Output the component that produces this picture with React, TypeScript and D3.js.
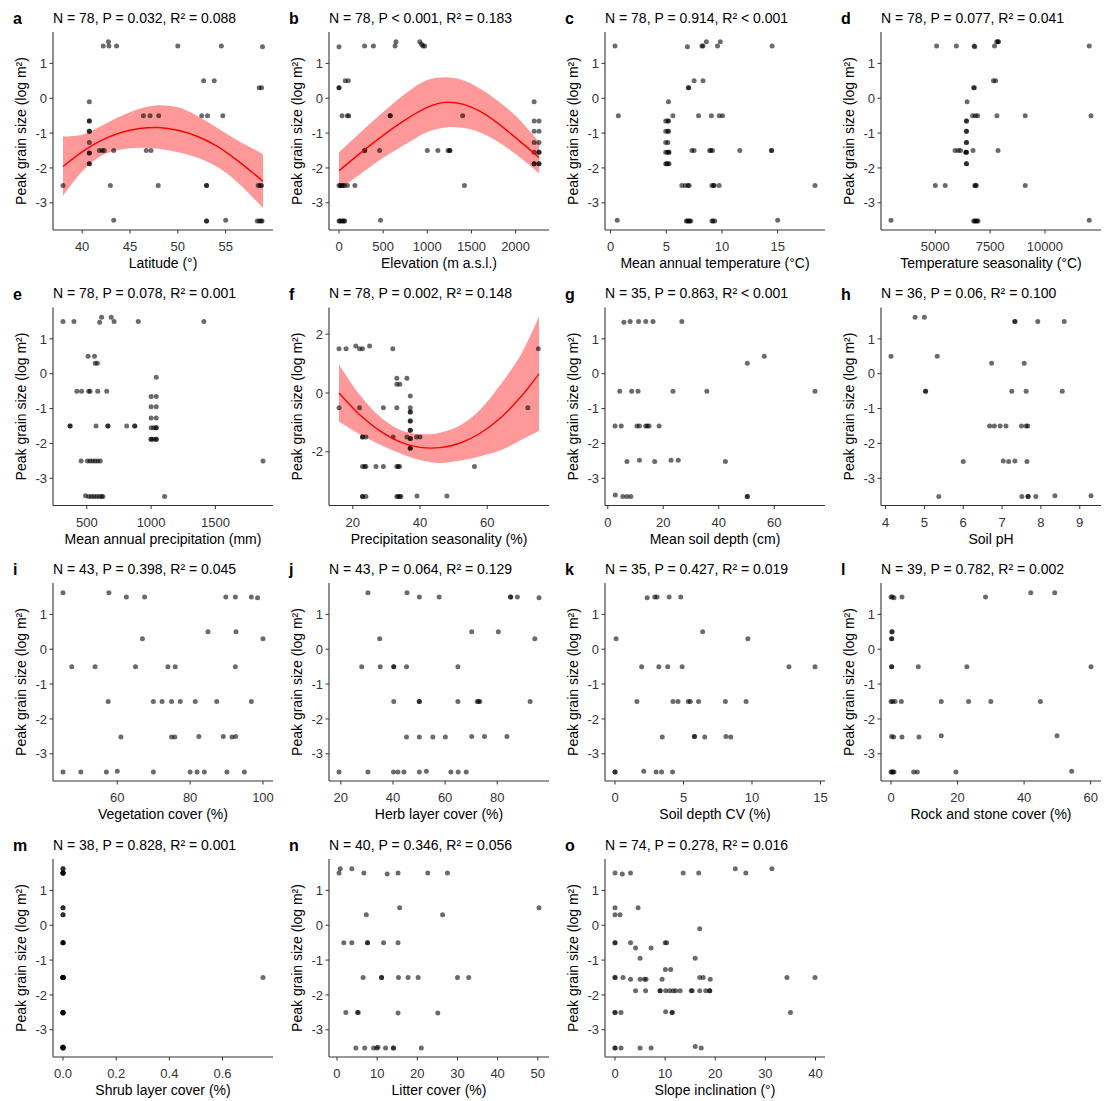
import * as d3 from "d3";

type Pt = [number, number];

const FONT = "'Liberation Sans', Arial, Helvetica, sans-serif";
const YLAB = "Peak grain size (log m²)";

// a: latitude
const latPts: Pt[] = [
  [42.2, 1.5], [42.75, 1.62], [42.8, 1.5], [43.6, 1.5], [50, 1.5], [54.55, 1.5], [58.85, 1.48],
  [52.7, 0.5], [53.8, 0.5], [58.5, 0.3], [58.75, 0.3],
  [40.75, -0.1],
  [46.4, -0.5], [47.1, -0.5], [48, -0.5], [52.5, -0.5], [53.1, -0.5], [54.7, -0.5],
  [40.75, -0.65], [40.75, -0.65], [40.75, -0.95], [40.75, -0.95], [40.75, -1.27],
  [41.8, -1.5], [42.1, -1.5], [42.3, -1.5], [43.3, -1.5], [46.7, -1.5], [47.2, -1.5],
  [40.75, -1.57], [40.75, -1.57], [40.75, -1.88], [40.75, -1.88],
  [38, -2.5], [42.95, -2.5], [47.95, -2.5], [53, -2.5], [53, -2.5], [58.4, -2.5], [58.6, -2.5], [58.75, -2.5],
  [43.3, -3.5], [53, -3.52], [53, -3.52], [55, -3.5], [58.3, -3.52], [58.5, -3.52], [58.7, -3.52], [58.8, -3.52],
];
const latCurveX = [38, 40, 42, 44, 46, 48, 50, 52, 54, 56, 58.9];
const latFit = [-1.96, -1.54, -1.21, -0.99, -0.87, -0.84, -0.92, -1.09, -1.36, -1.74, -2.38];
const latLo = [-2.8, -2.1, -1.65, -1.47, -1.42, -1.45, -1.55, -1.7, -1.95, -2.35, -3.15];
const latHi = [-1.1, -1.05, -0.8, -0.52, -0.3, -0.2, -0.26, -0.5, -0.83, -1.17, -1.6];

// b: elevation
const elevPts: Pt[] = [
  [0, 1.48], [290, 1.5], [390, 1.5], [635, 1.5], [645, 1.62], [915, 1.62], [935, 1.55], [950, 1.5], [970, 1.5],
  [70, 0.5], [105, 0.5], [0, 0.3], [0, 0.3], [2210, -0.1],
  [35, -0.5], [95, -0.5], [110, -0.5], [580, -0.5], [580, -0.5], [1400, -0.5],
  [2210, -0.65], [2265, -0.65], [2210, -0.95], [2265, -0.95], [2210, -1.27], [2265, -1.27],
  [290, -1.5], [290, -1.5], [460, -1.5], [1000, -1.5], [1120, -1.5], [1235, -1.5], [1255, -1.5], [1255, -1.5],
  [2210, -1.55], [2265, -1.55], [2265, -1.55], [2210, -1.88], [2210, -1.88], [2265, -1.88], [2265, -1.88],
  [0, -2.5], [15, -2.5], [30, -2.5], [45, -2.5], [60, -2.5], [95, -2.5], [180, -2.5], [1420, -2.5],
  [0, -3.52], [10, -3.52], [25, -3.52], [40, -3.52], [55, -3.52], [65, -3.52], [470, -3.5],
];
const elevCurveX = [0, 200, 400, 600, 800, 1000, 1200, 1400, 1600, 1800, 2000, 2265];
const elevFit = [-2.08, -1.66, -1.26, -0.88, -0.54, -0.26, -0.12, -0.17, -0.38, -0.72, -1.13, -1.7];
const elevLo = [-2.6, -2.25, -1.88, -1.55, -1.25, -0.97, -0.84, -0.85, -0.98, -1.25, -1.6, -2.15];
const elevHi = [-1.55, -1.08, -0.62, -0.18, 0.22, 0.52, 0.6, 0.52, 0.27, -0.08, -0.5, -1.25];

// c: mean annual temperature
const matPts: Pt[] = [
  [0.4, 1.5], [6.9, 1.48], [8.2, 1.5], [8.3, 1.5], [8.6, 1.62], [9.6, 1.5], [9.85, 1.62], [14.5, 1.5],
  [7.5, 0.5], [8.3, 0.5], [7, 0.3], [7, 0.3], [5.2, -0.1],
  [0.7, -0.5], [5.6, -0.5], [7.9, -0.5], [9.05, -0.5], [9.75, -0.5], [10.05, -0.5],
  [4.95, -0.65], [5.15, -0.65], [5.2, -0.65], [4.95, -0.95], [5.15, -0.95], [5.2, -0.95], [4.95, -1.27], [5.15, -1.27],
  [7.3, -1.5], [7.5, -1.5], [8.9, -1.5], [9.0, -1.5], [9.15, -1.5], [11.6, -1.5], [14.45, -1.5], [14.45, -1.5],
  [4.95, -1.55], [5.1, -1.55], [5.2, -1.55], [5.25, -1.55], [4.95, -1.88], [5.05, -1.88], [5.15, -1.88], [5.25, -1.88],
  [6.4, -2.5], [6.7, -2.5], [6.95, -2.5], [7.05, -2.5], [9.1, -2.5], [9.25, -2.5], [9.3, -2.5], [9.75, -2.5], [18.35, -2.5],
  [0.6, -3.5], [6.8, -3.52], [6.9, -3.52], [7.0, -3.52], [7.1, -3.52], [7.2, -3.52], [9.1, -3.52], [9.2, -3.52], [9.35, -3.52], [15.0, -3.5],
];

// d: temperature seasonality
const tsPts: Pt[] = [
  [5060, 1.5], [5960, 1.5], [6770, 1.5], [6800, 1.48], [7700, 1.5], [7800, 1.62], [7860, 1.62], [7880, 1.62], [12020, 1.5],
  [7650, 0.5], [7750, 0.5], [6750, 0.3], [6780, 0.3], [6450, -0.1],
  [6700, -0.5], [6830, -0.5], [6930, -0.5], [7810, -0.5], [9100, -0.5], [12100, -0.5],
  [6420, -0.65], [6420, -0.65], [6420, -0.95], [6420, -0.95], [6420, -1.27], [6420, -1.27],
  [5900, -1.5], [6050, -1.5], [6150, -1.5], [6720, -1.5], [7860, -1.5],
  [6420, -1.55], [6420, -1.55], [6380, -1.55], [6420, -1.88], [6420, -1.88],
  [5000, -2.5], [5450, -2.5], [6800, -2.5], [6830, -2.5], [6870, -2.5], [9100, -2.5],
  [2980, -3.5], [6750, -3.52], [6800, -3.52], [6850, -3.52], [6900, -3.52], [6950, -3.52], [12020, -3.5],
];

// e: mean annual precipitation
const mapPts: Pt[] = [
  [315, 1.5], [400, 1.5], [600, 1.48], [615, 1.62], [690, 1.62], [712, 1.5], [900, 1.5], [1410, 1.5],
  [510, 0.5], [560, 0.5], [565, 0.3], [582, 0.3], [1040, -0.1],
  [423, -0.5], [460, -0.5], [515, -0.5], [525, -0.5], [585, -0.5], [655, -0.5],
  [1000, -0.65], [1040, -0.65], [1000, -0.95], [1040, -0.95], [1000, -1.27], [1040, -1.27],
  [370, -1.5], [370, -1.5], [572, -1.5], [664, -1.5], [664, -1.5], [810, -1.5], [873, -1.5], [873, -1.5],
  [1000, -1.55], [1020, -1.55], [1040, -1.55], [1040, -1.55],
  [1000, -1.88], [1000, -1.88], [1020, -1.88], [1040, -1.88], [1040, -1.88],
  [456, -2.5], [505, -2.5], [525, -2.5], [545, -2.5], [565, -2.5], [585, -2.5], [605, -2.5], [1870, -2.5],
  [490, -3.5], [515, -3.52], [535, -3.52], [555, -3.52], [575, -3.52], [595, -3.52], [615, -3.52], [625, -3.52], [1105, -3.52],
];

// f: precipitation seasonality
const psPts: Pt[] = [
  [15.9, 1.5], [18, 1.5], [20.9, 1.6], [22, 1.5], [22.9, 1.5], [25, 1.6], [31.9, 1.5], [75.2, 1.5],
  [33.1, 0.5], [36.1, 0.5], [33.1, 0.3], [34.0, 0.3], [37.1, -0.1],
  [15.9, -0.5], [22, -0.5], [29.1, -0.5], [33.1, -0.5], [37.1, -0.5], [72.1, -0.5],
  [37.1, -0.65], [37.1, -0.65], [37.1, -0.95], [37.1, -0.95], [37.1, -1.27], [37.1, -1.27],
  [22.9, -1.5], [22.9, -1.5], [23.9, -1.5], [32, -1.5], [36.1, -1.5], [39, -1.5], [40, -1.5],
  [37.1, -1.55], [37.1, -1.55], [37.1, -1.88], [37.1, -1.88],
  [22.9, -2.5], [23.5, -2.5], [23.9, -2.5], [26.9, -2.5], [29.1, -2.5], [33.1, -2.5], [33.5, -2.5], [33.9, -2.5], [56.2, -2.5],
  [22.9, -3.52], [22.9, -3.52], [23.9, -3.52], [33.1, -3.52], [33.5, -3.52], [34, -3.52], [34.3, -3.52], [39.1, -3.5], [48, -3.5],
];
const psCurveX = [15.9, 22, 28, 34, 40, 46, 52, 58, 64, 70, 75.4];
const psFit = [0.0, -0.73, -1.28, -1.66, -1.85, -1.86, -1.7, -1.36, -0.84, -0.13, 0.65];
const psLo = [-0.97, -1.4, -1.75, -2.05, -2.28, -2.38, -2.3, -2.15, -1.95, -1.6, -1.29];
const psHi = [0.97, -0.05, -0.8, -1.25, -1.4, -1.35, -1.1, -0.55, 0.3, 1.3, 2.6];

// g: mean soil depth
const sdPts: Pt[] = [
  [5.8, 1.48], [8.05, 1.5], [11.1, 1.5], [13.7, 1.5], [16.3, 1.5], [26.7, 1.5],
  [56.4, 0.5], [50.3, 0.3],
  [4.3, -0.5], [8.6, -0.5], [10.9, -0.5], [23.5, -0.5], [35.7, -0.5], [74.7, -0.5],
  [2.6, -1.5], [4.85, -1.5], [10.5, -1.5], [11.4, -1.5], [13.7, -1.5], [14.2, -1.5], [14.9, -1.5], [18.5, -1.5],
  [6.9, -2.52], [11.4, -2.48], [16.9, -2.52], [22.8, -2.48], [25.4, -2.48], [42.4, -2.52],
  [2.7, -3.48], [5.4, -3.52], [6.9, -3.52], [8.3, -3.52], [50.3, -3.52], [50.3, -3.52],
];

// h: soil pH
const phPts: Pt[] = [
  [4.76, 1.62], [5.0, 1.62], [7.33, 1.5], [7.33, 1.5], [7.92, 1.5], [8.6, 1.5],
  [4.14, 0.5], [5.33, 0.5], [6.73, 0.3], [7.57, 0.3],
  [5.03, -0.5], [5.03, -0.5], [7.25, -0.5], [7.62, -0.5], [8.55, -0.5],
  [6.68, -1.5], [6.8, -1.5], [6.95, -1.5], [7.1, -1.5], [7.5, -1.5], [7.62, -1.5], [7.66, -1.5],
  [6.0, -2.52], [7.03, -2.5], [7.17, -2.52], [7.33, -2.5], [7.64, -2.52],
  [5.37, -3.52], [7.51, -3.52], [7.67, -3.52], [7.67, -3.52], [7.87, -3.52], [8.36, -3.5], [9.29, -3.5],
];

// i: vegetation cover
const vegPts: Pt[] = [
  [45.1, 1.62], [57.7, 1.62], [62.5, 1.5], [67.5, 1.5], [89.8, 1.5], [92.4, 1.5], [96.8, 1.5], [98.5, 1.48],
  [84.9, 0.5], [92.6, 0.5], [66.9, 0.3], [100, 0.3],
  [47.5, -0.5], [53.9, -0.5], [65, -0.5], [73.9, -0.5], [75.9, -0.5], [92.4, -0.5],
  [57.5, -1.5], [69.9, -1.5], [72.3, -1.5], [74.9, -1.5], [77.3, -1.5], [81.4, -1.5], [87.3, -1.5], [96.8, -1.5],
  [61, -2.52], [74.9, -2.52], [75.8, -2.52], [82.4, -2.5], [89.1, -2.5], [91.5, -2.52], [92.5, -2.5],
  [45.1, -3.52], [50, -3.52], [57, -3.52], [60, -3.5], [69.9, -3.52], [80, -3.52], [81.9, -3.52], [83.9, -3.52], [90.1, -3.52], [94.9, -3.52],
];

// j: herb layer cover
const herbPts: Pt[] = [
  [30.4, 1.62], [45.4, 1.62], [50.1, 1.5], [57.7, 1.5], [85, 1.5], [85.2, 1.5], [87.7, 1.5], [96, 1.48],
  [70.2, 0.5], [80.4, 0.5], [34.9, 0.3], [94.4, 0.3],
  [28, -0.5], [35.1, -0.5], [40.3, -0.5], [40.3, -0.5], [45.2, -0.5], [64.9, -0.5],
  [40.3, -1.5], [50.1, -1.5], [50.1, -1.5], [64.9, -1.5], [72.3, -1.5], [73.3, -1.5], [72.8, -1.5], [92.6, -1.5],
  [45.2, -2.52], [50.1, -2.52], [55.3, -2.52], [60.1, -2.52], [70.2, -2.5], [75.1, -2.5], [83.7, -2.5],
  [19.3, -3.52], [30.4, -3.52], [40.2, -3.52], [41.9, -3.52], [44.2, -3.52], [50.1, -3.52], [52.8, -3.5], [62.2, -3.52], [65, -3.52], [68.1, -3.52],
];

// k: soil depth CV
const cvPts: Pt[] = [
  [2.35, 1.48], [2.9, 1.5], [3.07, 1.5], [3.95, 1.5], [4.8, 1.5],
  [6.4, 0.5], [0.08, 0.3], [9.7, 0.3],
  [1.94, -0.5], [3.2, -0.5], [3.85, -0.5], [4.9, -0.5], [12.7, -0.5], [14.6, -0.5],
  [1.6, -1.5], [4.23, -1.5], [4.6, -1.5], [5.35, -1.5], [5.5, -1.5], [6.1, -1.5], [8.06, -1.5], [9.57, -1.5],
  [3.45, -2.52], [5.8, -2.5], [5.8, -2.5], [6.55, -2.52], [8.1, -2.5], [8.45, -2.52],
  [0, -3.52], [0, -3.52], [2.1, -3.5], [3.0, -3.52], [3.4, -3.52], [4.2, -3.52],
];

// l: rock and stone cover
const rockPts: Pt[] = [
  [0, 1.5], [0.4, 1.5], [0.9, 1.48], [3.3, 1.5], [28.4, 1.5], [42, 1.62], [49.2, 1.62],
  [0.3, 0.5], [0.3, 0.5], [0.2, 0.3], [0.2, 0.3],
  [0.2, -0.5], [0.2, -0.5], [8.2, -0.5], [22.8, -0.5], [60.1, -0.5],
  [0, -1.5], [0.5, -1.5], [1.2, -1.5], [3.1, -1.5], [15.1, -1.5], [23.3, -1.5], [30, -1.5], [44.9, -1.5],
  [0.2, -2.5], [0.8, -2.52], [3.3, -2.52], [8.4, -2.52], [15.1, -2.48], [49.9, -2.48],
  [0, -3.52], [0.3, -3.52], [0.6, -3.52], [0.9, -3.52], [6.8, -3.52], [7.9, -3.52], [19.5, -3.52], [54.3, -3.5],
];

// m: shrub layer cover
const shrubPts: Pt[] = [
  [0, 1.62], [0, 1.62], [0, 1.5], [0, 1.5], [0, 1.5], [0, 1.5], [0, 1.5],
  [0, 0.5], [0, 0.5], [0, 0.3], [0, 0.3],
  [0, -0.5], [0, -0.5], [0, -0.5], [0, -0.5],
  [0, -1.5], [0, -1.5], [0, -1.5], [0, -1.5], [0, -1.5], [0, -1.5], [0, -1.5], [0, -1.5],
  [0, -2.5], [0, -2.5], [0, -2.5], [0, -2.5], [0, -2.52], [0, -2.52],
  [0, -3.5], [0, -3.5], [0, -3.5], [0, -3.5], [0, -3.52], [0, -3.52], [0, -3.52],
  [0.752, -1.5],
];

// n: litter cover
const litterPts: Pt[] = [
  [0.8, 1.62], [3.7, 1.62], [0.5, 1.5], [6.7, 1.5], [12.5, 1.47], [15.2, 1.5], [22.6, 1.5], [27.5, 1.5],
  [15.6, 0.5], [50.3, 0.5], [7.3, 0.3], [26.3, 0.3],
  [1.7, -0.5], [3.7, -0.5], [7.6, -0.5], [7.6, -0.5], [11.6, -0.5], [15.2, -0.5],
  [6.5, -1.5], [11.1, -1.5], [11.1, -1.5], [15.3, -1.5], [17.7, -1.5], [20.2, -1.5], [30, -1.5], [32.8, -1.5],
  [2.2, -2.5], [5.1, -2.5], [5.3, -2.5], [15.2, -2.52], [25.1, -2.52],
  [4.7, -3.52], [6.9, -3.52], [9.1, -3.52], [9.9, -3.52], [10.2, -3.5], [12.1, -3.52], [14, -3.52], [14.1, -3.52], [21, -3.52],
];

// o: slope inclination
const slopePts: Pt[] = [
  [0, 1.5], [1.45, 1.47], [3.1, 1.5], [13.6, 1.5], [16.7, 1.5], [26.1, 1.5], [24, 1.62], [31.3, 1.62],
  [0, 0.5], [4.6, 0.5], [0, 0.3], [1.0, 0.3], [16.9, -0.1],
  [0, -0.5], [0, -0.5], [3.1, -0.5], [10, -0.5], [10.3, -0.5],
  [4.1, -0.65], [7.2, -0.65], [5.0, -0.95], [16.0, -0.95], [10.05, -1.27], [11.1, -1.27],
  [0, -1.5], [0, -1.5], [1.6, -1.5], [16.9, -1.5], [17.6, -1.5], [34.3, -1.5], [39.9, -1.5],
  [3.1, -1.55], [5.0, -1.55], [5.9, -1.55], [6.2, -1.55], [9.4, -1.55], [19, -1.55],
  [4.1, -1.88], [6.1, -1.88], [9.0, -1.88], [9.0, -1.88], [10.1, -1.88], [10.9, -1.88], [11.6, -1.88], [12.1, -1.88], [13, -1.88],
  [15.2, -1.88], [15.4, -1.88], [16.9, -1.88], [18.1, -1.88], [18.9, -1.88], [18.9, -1.88],
  [0, -2.5], [0, -2.5], [1.2, -2.5], [10.1, -2.48], [11.4, -2.5], [11.4, -2.5], [35, -2.5],
  [0, -3.52], [0, -3.52], [1.2, -3.52], [5.0, -3.52], [7.2, -3.52], [16, -3.48], [17.2, -3.52],
];

const yTicksStd = [-3, -2, -1, 0, 1];
const yTicksF = [-2, 0, 2];
// shared y limits of the plain panels (all but f)
const yDomainStd: [number, number] = [-3.78, 1.9];

type Curve = { x: number[]; fit: number[]; lo: number[]; hi: number[] };
type PanelDef = {
  letter: string;
  stat: string;
  xlab: string;
  pts: Pt[];
  xTicks: number[];
  yTicks: number[];
  yDomain?: [number, number];
  curve?: Curve;
  fmt?: (v: number) => string;
};

const panels: PanelDef[] = [
  { letter: "a", stat: "N = 78, P = 0.032, R² = 0.088", xlab: "Latitude (°)", pts: latPts, xTicks: [40, 45, 50, 55], yTicks: yTicksStd,
    yDomain: yDomainStd, curve: { x: latCurveX, fit: latFit, lo: latLo, hi: latHi } },
  { letter: "b", stat: "N = 78, P < 0.001, R² = 0.183", xlab: "Elevation (m a.s.l.)", pts: elevPts, xTicks: [0, 500, 1000, 1500, 2000], yTicks: yTicksStd,
    yDomain: yDomainStd, curve: { x: elevCurveX, fit: elevFit, lo: elevLo, hi: elevHi } },
  { letter: "c", stat: "N = 78, P = 0.914, R² < 0.001", xlab: "Mean annual temperature (°C)", pts: matPts, xTicks: [0, 5, 10, 15], yTicks: yTicksStd, yDomain: yDomainStd },
  { letter: "d", stat: "N = 78, P = 0.077, R² = 0.041", xlab: "Temperature seasonality (°C)", pts: tsPts, xTicks: [5000, 7500, 10000], yTicks: yTicksStd, yDomain: yDomainStd },
  { letter: "e", stat: "N = 78, P = 0.078, R² = 0.001", xlab: "Mean annual precipitation (mm)", pts: mapPts, xTicks: [500, 1000, 1500], yTicks: yTicksStd, yDomain: yDomainStd },
  { letter: "f", stat: "N = 78, P = 0.002, R² = 0.148", xlab: "Precipitation seasonality (%)", pts: psPts, xTicks: [20, 40, 60], yTicks: yTicksF,
    curve: { x: psCurveX, fit: psFit, lo: psLo, hi: psHi } },
  { letter: "g", stat: "N = 35, P = 0.863, R² < 0.001", xlab: "Mean soil depth (cm)", pts: sdPts, xTicks: [0, 20, 40, 60], yTicks: yTicksStd, yDomain: yDomainStd },
  { letter: "h", stat: "N = 36, P = 0.06, R² = 0.100", xlab: "Soil pH", pts: phPts, xTicks: [4, 5, 6, 7, 8, 9], yTicks: yTicksStd, yDomain: yDomainStd },
  { letter: "i", stat: "N = 43, P = 0.398, R² = 0.045", xlab: "Vegetation cover (%)", pts: vegPts, xTicks: [60, 80, 100], yTicks: yTicksStd, yDomain: yDomainStd },
  { letter: "j", stat: "N = 43, P = 0.064, R² = 0.129", xlab: "Herb layer cover (%)", pts: herbPts, xTicks: [20, 40, 60, 80], yTicks: yTicksStd, yDomain: yDomainStd },
  { letter: "k", stat: "N = 35, P = 0.427, R² = 0.019", xlab: "Soil depth CV (%)", pts: cvPts, xTicks: [0, 5, 10, 15], yTicks: yTicksStd, yDomain: yDomainStd },
  { letter: "l", stat: "N = 39, P = 0.782, R² = 0.002", xlab: "Rock and stone cover (%)", pts: rockPts, xTicks: [0, 20, 40, 60], yTicks: yTicksStd, yDomain: yDomainStd },
  { letter: "m", stat: "N = 38, P = 0.828, R² = 0.001", xlab: "Shrub layer cover (%)", pts: shrubPts, xTicks: [0, 0.2, 0.4, 0.6], yTicks: yTicksStd,
    yDomain: yDomainStd, fmt: d3.format(".1f") },
  { letter: "n", stat: "N = 40, P = 0.346, R² = 0.056", xlab: "Litter cover (%)", pts: litterPts, xTicks: [0, 10, 20, 30, 40, 50], yTicks: yTicksStd, yDomain: yDomainStd },
  { letter: "o", stat: "N = 74, P = 0.278, R² = 0.016", xlab: "Slope inclination (°)", pts: slopePts, xTicks: [0, 10, 20, 30, 40], yTicks: yTicksStd, yDomain: yDomainStd },
];

// panel geometry (inside one cell)
const COL_W = 276;
const ROW_Y = [0, 275.5, 551, 827];
const L = 53, R = 273, T = 32, B = 230;

function expand(ext: number[]): [number, number] {
  const lo = d3.min(ext) as number;
  const hi = d3.max(ext) as number;
  const pad = (hi - lo) * 0.05 || 0.05;
  return [lo - pad, hi + pad];
}

function Panel({ p, x0, y0 }: { p: PanelDef; x0: number; y0: number }) {
  const xs = p.pts.map((d) => d[0]).concat(p.curve ? p.curve.x : []);
  const ys = p.pts.map((d) => d[1]).concat(p.curve ? [...p.curve.lo, ...p.curve.hi] : []);
  const x = d3.scaleLinear().domain(expand(xs)).range([L, R]);
  const y = d3.scaleLinear().domain(p.yDomain || expand(ys)).range([B, T]);
  const fmt = p.fmt || ((v: number) => String(v));

  let ribbon = null;
  let fitLine = null;
  if (p.curve) {
    const c = p.curve;
    const idx = d3.range(c.x.length);
    const area = d3
      .area<number>()
      .x((i) => x(c.x[i]))
      .y0((i) => y(c.lo[i]))
      .y1((i) => y(c.hi[i]))
      .curve(d3.curveCatmullRom);
    const line = d3
      .line<number>()
      .x((i) => x(c.x[i]))
      .y((i) => y(c.fit[i]))
      .curve(d3.curveCatmullRom);
    ribbon = <path d={area(idx) || ""} fill="#ff0000" fillOpacity={0.4} />;
    fitLine = <path d={line(idx) || ""} fill="none" stroke="#ff0000" strokeWidth={1.4} />;
  }

  return (
    <g transform={`translate(${x0},${y0})`} fontFamily={FONT}>
      <text x={13} y={24} fontSize={16} fontWeight="bold" fill="#000">{p.letter}</text>
      <text x={L} y={22.5} fontSize={14} fill="#000">{p.stat}</text>

      {ribbon}
      {p.pts.map((d, i) => (
        <circle key={i} cx={x(d[0])} cy={y(d[1])} r={2.5} fill="#000" fillOpacity={0.58} />
      ))}
      {fitLine}

      <line x1={L} x2={L} y1={T} y2={B} stroke="#333" strokeWidth={1.1} />
      <line x1={L} x2={R} y1={B} y2={B} stroke="#333" strokeWidth={1.1} />

      {p.yTicks.map((t) => (
        <g key={"y" + t}>
          <line x1={L - 3.5} x2={L} y1={y(t)} y2={y(t)} stroke="#333" strokeWidth={1} />
          <text x={L - 6} y={y(t)} dy="0.36em" textAnchor="end" fontSize={13} fill="#333">{String(t)}</text>
        </g>
      ))}
      {p.xTicks.map((t) => (
        <g key={"x" + t}>
          <line x1={x(t)} x2={x(t)} y1={B} y2={B + 3.5} stroke="#333" strokeWidth={1} />
          <text x={x(t)} y={B + 21} textAnchor="middle" fontSize={13} fill="#333">{fmt(t)}</text>
        </g>
      ))}

      <text x={(L + R) / 2} y={268} textAnchor="middle" fontSize={14} fill="#000">{p.xlab}</text>
      <text transform={`translate(26,${(T + B) / 2}) rotate(-90)`} textAnchor="middle" fontSize={14} fill="#000">{YLAB}</text>
    </g>
  );
}

export default function App() {
  return (
    <svg
      width={1104}
      height={1101}
      style={{ position: "absolute", left: 0, top: 0, background: "#fff" }}
    >
      <rect width={1104} height={1101} fill="#fff" />
      {panels.map((p, i) => (
        <Panel key={p.letter} p={p} x0={(i % 4) * COL_W} y0={ROW_Y[Math.floor(i / 4)]} />
      ))}
    </svg>
  );
}
